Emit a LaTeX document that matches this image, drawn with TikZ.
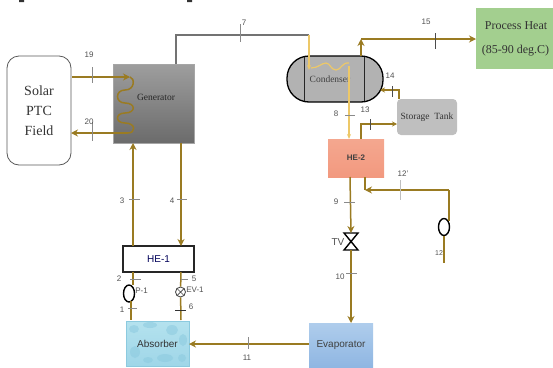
\documentclass[tikz,border=0pt]{standalone}
\usepackage{fontspec}
\setmainfont{Liberation Serif}
\setsansfont{Liberation Sans}
\usetikzlibrary{arrows.meta,shapes.geometric}
\definecolor{pipecol}{HTML}{9A7B22}
\definecolor{yel}{HTML}{EDC868}
\definecolor{tickcol}{HTML}{8A8A8A}
\definecolor{numcol}{HTML}{505050}
\definecolor{procgreen}{HTML}{A3CF8F}
\definecolor{heat}{HTML}{F4A78F}
\definecolor{heatb}{HTML}{F2997F}
\definecolor{absa}{HTML}{B4E2EE}
\definecolor{absb}{HTML}{9FD6E8}
\definecolor{bubble}{HTML}{8CCADF}
\definecolor{evapa}{HTML}{AFCDEC}
\definecolor{evapb}{HTML}{8FB6E2}
\tikzset{
  x=1pt,y=-1pt,
  box/.style={inner sep=0pt,outer sep=0pt,minimum width=#1},
  pipe/.style={draw=pipecol,line width=1.5pt,-{Stealth[length=7pt,width=7pt]}},
  pipeplain/.style={draw=pipecol,line width=1.5pt},
  thin pipe/.style={draw=pipecol,line width=1.1pt,-{Stealth[length=5pt,width=5pt]}},
  yelpipe/.style={draw=yel,line width=1.1pt,-{Stealth[length=5pt,width=4pt]}},
  tick/.style={draw=tickcol,line width=.6pt},
  num/.style={font=\sffamily\fontsize{8}{9}\selectfont,text=numcol,inner sep=0pt},
  pumpshape/.style={ellipse,draw=black,line width=1.4pt,minimum width=11pt,minimum height=17pt,inner sep=0pt},
}
\begin{document}
\begin{tikzpicture}
\useasboundingbox (0,0) rectangle (553,367);
% cropped line of text at the top edge
\fill[black!80] (19,0) rectangle (24,2) (187,0) rectangle (192,2);
% equipment
\node[box=64pt,minimum height=109pt,draw=black!65,line width=.8pt,rounded corners=12pt,align=center,font=\fontsize{14}{20}\selectfont,text=black!80] (solar) at (39,110.5) {Solar\\PTC\\Field};
\node[box=81pt,minimum height=79pt,top color=black!38,bottom color=black!58,draw=black!35,line width=.4pt,font=\fontsize{9.5}{11}\selectfont,text=black!85] (gen) at (153.5,103.5) {\hspace{5pt}\raisebox{3pt}[0pt][0pt]{Generator}};
\node[box=96pt,minimum height=46pt,fill=black!30,draw=black,line width=1.3pt,rounded corners=22pt,font=\fontsize{9.5}{11}\selectfont,text=black!75] (cond) at (335,79) {\hspace{-10pt}\raisebox{-3pt}[0pt][0pt]{Condenser}};
\draw[black!85,line width=.8pt] (304,57) -- (304,101) (364,57) -- (364,101);
\node[box=77pt,minimum height=61pt,fill=procgreen,font=\fontsize{12}{24}\selectfont,align=center,text=black!80] (proc) at (514.5,38.5) {\hspace{3pt}Process Heat\\\hspace{2pt}(85-90 deg.C)};
\node[box=60pt,minimum height=36pt,fill=black!25,rounded corners=4pt,font=\fontsize{9.5}{11}\selectfont,text=black!80] (tank) at (427,117) {Storage\ \ Tank};
\node[box=56pt,minimum height=38pt,top color=heat,bottom color=heatb,font=\sffamily\bfseries\fontsize{8}{10}\selectfont,text=black!75] (he2) at (356,158) {HE-2};
\node[box=71pt,minimum height=26pt,fill=white,draw=black!85,line width=1.3pt,font=\sffamily\fontsize{10}{12}\selectfont,text=blue!35!black] (he1) at (158.5,259) {HE-1};
\node[box=63pt,minimum height=45pt,top color=absa,bottom color=absb,draw=bubble,line width=.5pt] (abs) at (157.5,343.5) {};
\foreach \bx/\by/\ba/\bb in {134/329/5/4,150/325/7/3,172/330/6/5,183/340/4/6,135/352/5/6,165/358/8/4,182/358/4/4,148/360/5/3}
  \fill[bubble,opacity=.55] (\bx,\by) ellipse [x radius=\ba pt,y radius=\bb pt];
\node[inner sep=0pt,font=\sffamily\fontsize{10}{12}\selectfont,text=black!80] (abstext) at (abs.center) {Absorber};
\node[box=64pt,minimum height=44pt,top color=evapa,bottom color=evapb,font=\sffamily\fontsize{10}{12}\selectfont,text=black!75] (evap) at (341,345) {Evaporator};
% named connection points
\coordinate (c7a) at (176,64);
\coordinate (c7b) at (176,35);
\coordinate (c7c) at (309,35);
\coordinate (c7d) at (309,70);
\coordinate (c15a) at (361,56);
\coordinate (c15b) at (361,39);
\coordinate (c15c) at (476,39);
\coordinate (c14a) at (399,99);
\coordinate (c14b) at (399,90);
\coordinate (c14c) at (380,90);
\coordinate (c13a) at (361,139);
\coordinate (c13b) at (361,124);
\coordinate (c13c) at (397,124);
\coordinate (c3a) at (133,246);
\coordinate (c3b) at (133,143);
\coordinate (c4a) at (181,143);
\coordinate (c4b) at (181,246);
\coordinate (c19a) at (72,77);
\coordinate (c19b) at (130,77);
\coordinate (c20a) at (128,133);
\coordinate (c20b) at (71,133);
\coordinate (c9a) at (350,177);
\coordinate (c10b) at (351,323);
\coordinate (c11a) at (309,344);
\coordinate (c11b) at (189,344);
\coordinate (c12a) at (449,221);
\coordinate (c12b) at (449,190);
\coordinate (c12c) at (365,190);
\coordinate (c12d) at (365,177);
\coordinate (c8a) at (349,66);
\coordinate (c8b) at (349,139);
\coordinate (c12e) at (444,263);
\coordinate (c12f) at (444,236);
\coordinate (c2a) at (133,272);
\coordinate (c2b) at (133,285);
\coordinate (c1a) at (131,320);
\coordinate (c1b) at (131,301);
\coordinate (c5a) at (181,272);
\coordinate (c6a) at (181,320);
% pumps and valves
\node[pumpshape] (p1) at (129,293.5) {};
\node[pumpshape] (p2) at (444,227) {};
\node[circle,draw=black!75,line width=.8pt,minimum width=10pt,inner sep=0pt] (ev) at (180.5,292) {};
\draw[black!75,line width=.7pt] (ev.north west) -- (ev.south east) (ev.north east) -- (ev.south west);
\coordinate (tvt) at (351,233);
\coordinate (tvb) at (351,250);
\draw[black,line width=1.4pt,line join=miter] (344,233) -- (358,233) -- (344,250) -- (358,250) -- cycle;
% pipes
\draw[draw=black!55,line width=1.1pt] (c7a) -- (c7b) -- (c7c);
\draw[yelpipe] (c7c) -- (c7d);
\draw[yel,line width=1.2pt] (311,68) .. controls (318,68) and (322,63) .. (326,63) .. controls (330,63) and (331,70) .. (336,70) .. controls (341,70) and (342,62) .. (349,63);
\draw[yelpipe] (c8a) -- (c8b);
\draw[pipe] (c15a) -- (c15b);
\draw[pipe] (c15b) -- (c15c);
\draw[thin pipe] (c14a) -- (c14b) -- (c14c);
\draw[thin pipe] (c13a) -- (c13b) -- (c13c);
\draw[pipe] (c3a) -- (c3b);
\draw[pipe] (c4a) -- (c4b);
\draw[pipe] (c19a) -- (c19b);
\draw[pipe] (c20a) -- (c20b);
\draw[pipeplain] (c19b) .. controls (135,78) and (135,90) .. (125,90) .. controls (115,90) and (115,103) .. (125,103) .. controls (136,103) and (136,113) .. (125,113) .. controls (115,113) and (115,123) .. (125,123) .. controls (136,123) and (136,133) .. (c20a);
\draw[pipe] (c9a) -- (tvt);
\draw[pipe] (tvb) -- (c10b);
\draw[pipe] (c11a) -- (c11b);
\draw[pipeplain] (c12a) -- (c12b);
\draw[pipe] (c12b) -- (c12c);
\draw[pipeplain] (c12c) -- (c12d);
\draw[pipeplain] (c12f) -- (c12e);
\draw[pipeplain] (c2a) -- (c2b);
\draw[pipeplain] (c1b) -- (c1a);
\draw[pipeplain] (c5a) -- (ev);
\draw[pipeplain] (ev) -- (c6a);
% ticks
\draw[tick] (240,24) -- (240,42);
\draw[tick] (92,67) -- (92,83);
\draw[tick] (92,122) -- (92,141);
\draw[tick,black!70,line width=.7pt] (435,33) -- (435,49);
\draw[tick,black!70] (392,86) -- (392,97);
\draw[tick,black!70] (370,119) -- (370,130);
\draw[tick] (345,115) -- (355,115);
\draw[tick] (344,202) -- (355,202);
\draw[tick] (346,273) -- (357,273);
\draw[tick] (248,337) -- (248,349);
\draw[tick,black!25] (400,180) -- (400,200);
\draw[tick] (129,199) -- (140,199);
\draw[tick] (177,199) -- (187,199);
\draw[tick] (130,279) -- (141,279);
\draw[tick] (181,279) -- (188,279);
\draw[tick] (128,308) -- (137,308);
\draw[tick,black!80] (175,310) -- (186,310);
% labels
\node[num] (n7) at (244,23) {7};
\node[num] (n19) at (89,55) {19};
\node[num] (n20) at (89,122) {20};
\node[num] (n15) at (426,22) {15};
\node[num] (n14) at (390,76) {14};
\node[num] (n13) at (365,110) {13};
\node[num] (n8) at (336,114) {8};
\node[num] (n12p) at (403,174) {12'};
\node[num] (n9) at (336,202) {9};
\node[num,font=\sffamily\fontsize{10}{11}\selectfont] (ntv) at (338,242) {TV};
\node[num] (n10) at (340,277) {10};
\node[num,font=\sffamily\fontsize{7}{8}\selectfont] (n12) at (439,253) {12};
\node[num] (n11) at (247,358) {11};
\node[num] (n3) at (122,201) {3};
\node[num] (n4) at (172,201) {4};
\node[num] (n2) at (119,279) {2};
\node[num] (n5) at (194,279) {5};
\node[num] (n1) at (122,310) {1};
\node[num] (n6) at (191,307) {6};
\node[num] (np1) at (141.5,291) {P-1};
\node[num] (nev) at (195,290) {EV-1};
\end{tikzpicture}
\end{document}
